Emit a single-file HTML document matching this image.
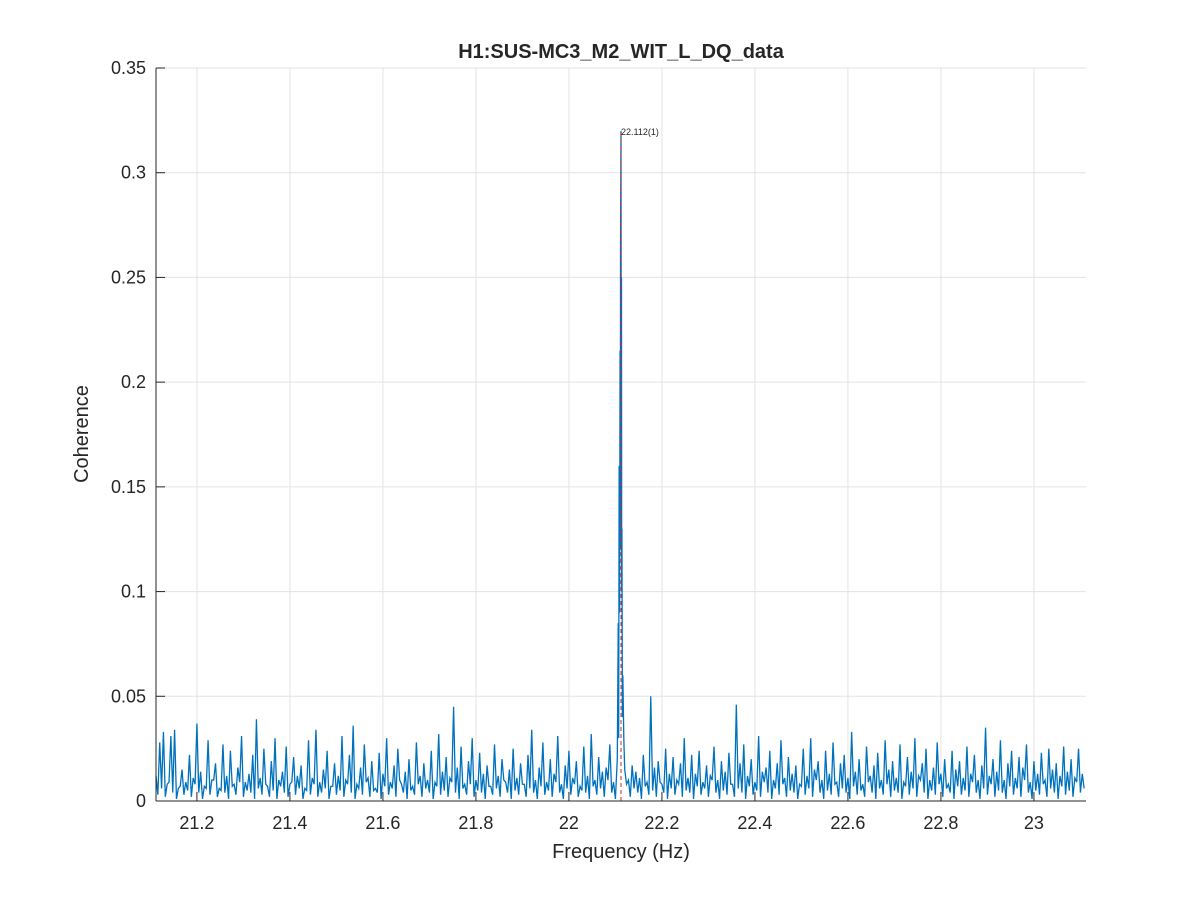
<!DOCTYPE html>
<html><head><meta charset="utf-8"><style>
body{margin:0;background:#fff;font-family:"Liberation Sans","DejaVu Sans",sans-serif}
svg text{font-family:"Liberation Sans","DejaVu Sans",sans-serif;fill:#262626}
</style></head><body>
<svg id="chart" width="1200" height="900">
<rect x="0" y="0" width="1200" height="900" fill="#fff"/>
<g id="grid"></g>
<g id="series"></g>
<g id="axes"></g>
<text x="621" y="58" text-anchor="middle" font-size="20" font-weight="bold">H1:SUS-MC3_M2_WIT_L_DQ_data</text>
<text x="621" y="858" text-anchor="middle" font-size="20">Frequency (Hz)</text>
<text x="88" y="434" text-anchor="middle" font-size="20" transform="rotate(-90 88 434)">Coherence</text>
</svg>
<script>
const xTicks=[21.2,21.4,21.6,21.8,22,22.2,22.4,22.6,22.8,23];
const xTickLabels=["21.2","21.4","21.6","21.8","22","22.2","22.4","22.6","22.8","23"];
const yTicks=[0,0.05,0.1,0.15,0.2,0.25,0.3,0.35];
const yTickLabels=["0","0.05","0.1","0.15","0.2","0.25","0.3","0.35"];
const noiseStart=21.112, noiseStep=0.008;
const noiseVals=[.012,.028,.033,.008,.031,.034,.006,.015,.009,.022,.011,.037,.014,.007,.029,.010,.018,.006,.027,.012,.024,.008,.016,.031,.009,
.013,.022,.039,.011,.025,.007,.019,.030,.010,.014,.026,.008,.021,.012,.017,.006,.029,.011,.034,.009,.015,.024,.007,.018,.012,
.031,.010,.022,.036,.008,.016,.027,.011,.019,.006,.023,.013,.030,.009,.017,.025,.008,.014,.020,.007,.028,.012,.018,.010,.024,
.009,.032,.014,.021,.011,.045,.016,.026,.008,.019,.030,.010,.023,.013,.017,.007,.027,.012,.020,.009,.015,.025,.011,.018,.008,
.022,.034,.010,.016,.028,.009,.020,.013,.031,.008,.017,.024,.011,.019,.007,.026,.012,.032,.010,.021,.014,.016,.027,.009,.018,
.012,.020,.010,.017,.014,.011,.022,.009,.050,.016,.019,.008,.025,.013,.021,.010,.018,.030,.011,.022,.013,.024,.009,.017,.012,
.026,.010,.019,.014,.023,.008,.046,.018,.027,.012,.020,.009,.031,.014,.016,.024,.010,.018,.029,.011,.021,.013,.017,.008,.025,
.012,.030,.015,.019,.010,.024,.013,.028,.009,.018,.022,.011,.033,.014,.020,.008,.026,.012,.017,.023,.010,.029,.015,.019,.011,
.027,.009,.021,.014,.030,.012,.018,.025,.010,.016,.028,.013,.020,.008,.024,.015,.019,.011,.026,.013,.022,.010,.017,.035,.012,
.020,.014,.029,.010,.018,.024,.011,.021,.016,.027,.009,.019,.013,.023,.010,.025,.015,.018,.012,.026,.014,.020,.011,.025,.013];
const noiseValsB=[.003,.006,.002,.009,.004,.001,.007,.003,.005,.002,.008,.004,.001,.006,.003,.010,.002,.005,.004,.001,.007,.003,.009,.002,.005,
.004,.001,.006,.003,.008,.002,.005,.001,.007,.004,.002,.009,.003,.006,.001,.005,.003,.008,.002,.004,.006,.001,.007,.003,.005,
.002,.008,.004,.001,.006,.003,.009,.002,.005,.004,.001,.007,.003,.006,.002,.010,.004,.001,.005,.003,.008,.002,.006,.004,.001,
.007,.003,.005,.002,.009,.004,.001,.006,.003,.008,.002,.005,.004,.001,.007,.003,.006,.002,.010,.004,.001,.005,.003,.008,.002,
.006,.004,.001,.007,.003,.005,.002,.009,.004,.001,.006,.003,.008,.002,.005,.004,.001,.007,.003,.006,.002,.010,.004,.001,.005,
.003,.008,.002,.006,.004,.001,.007,.003,.005,.002,.009,.004,.001,.006,.003,.008,.002,.005,.004,.001,.007,.003,.006,.002,.010,
.004,.001,.005,.003,.008,.002,.006,.004,.001,.007,.003,.005,.002,.009,.004,.001,.006,.003,.008,.002,.005,.004,.001,.007,.003,
.006,.002,.010,.004,.001,.005,.003,.008,.002,.006,.004,.001,.007,.003,.005,.002,.009,.004,.001,.006,.003,.008,.002,.005,.004,
.001,.007,.003,.006,.002,.010,.004,.001,.005,.003,.008,.002,.006,.004,.001,.007,.003,.005,.002,.009,.004,.001,.006,.003,.008,
.002,.005,.004,.001,.007,.003,.006,.002,.010,.004,.001,.005,.003,.008,.002,.006,.004,.001,.007,.003,.005,.002,.009,.004,.006];
const peakFreqs=[22.104,22.105,22.106,22.107,22.108,22.109,22.110,22.1105,22.111,22.112,22.1125,22.113,22.1135,22.114,22.115,22.116,22.118,22.120];
const peakVals=[.02,.05,.085,.03,.16,.09,.215,.12,.265,.32,.18,.25,.10,.13,.04,.06,.03,.015];
const peakFreq=22.112, peakVal=0.32, peakLabel="22.112(1)";

const X0=156,X1=1086,Y0=801,Y1=68,fmin=21.112,fmax=23.112,ymax=0.35;
const sx=f=>X0+(f-fmin)/(fmax-fmin)*(X1-X0);
const sy=v=>Y0-v/ymax*(Y0-Y1);
const NS="http://www.w3.org/2000/svg";
function mk(t,a,p){const e=document.createElementNS(NS,t);for(const k in a)e.setAttribute(k,a[k]);p.appendChild(e);return e;}
const grid=document.getElementById('grid'),axes=document.getElementById('axes'),ser=document.getElementById('series');
xTicks.forEach((t,i)=>{const x=sx(t);
 const g=mk('line',{x1:x,x2:x,y1:Y1,y2:Y0,stroke:'#e3e3e3','stroke-width':1},grid);
 
 
 const tk=mk('line',{x1:x,x2:x,y1:Y0,y2:Y0-9,stroke:'#262626'},axes);
 
 
 const tx=mk('text',{x:x,y:829,'text-anchor':'middle','font-size':18},axes);tx.textContent=xTickLabels[i];
 
 
});
yTicks.forEach((t,i)=>{const y=sy(t);
 const g=mk('line',{x1:X0,x2:X1,y1:y,y2:y,stroke:'#e3e3e3','stroke-width':1},grid);
 
 
 const tk=mk('line',{x1:X0,x2:X0+9,y1:y,y2:y,stroke:'#262626'},axes);
 
 
 const tx=mk('text',{x:146,y:y+6,'text-anchor':'end','font-size':18},axes);tx.textContent=yTickLabels[i];
 
 
});
const al=mk('line',{x1:X0,x2:X0,y1:Y1,y2:Y0,stroke:'#262626'},axes);


const ab=mk('line',{x1:X0,x2:X1,y1:Y0,y2:Y0,stroke:'#262626'},axes);


let pts=[];
noiseVals.forEach((v,i)=>{const f=noiseStart+i*noiseStep;if(f<22.101||f>22.122)pts.push([f,v]);});
noiseValsB.forEach((v,i)=>{const f=noiseStart+(i+0.5)*noiseStep;if((f<22.101||f>22.122)&&f<=fmax)pts.push([f,v]);});
peakFreqs.forEach((f,i)=>pts.push([f,peakVals[i]]));
pts.sort((a,b)=>a[0]-b[0]);
const d=pts.map((p,i)=>(i?'L':'M')+sx(p[0]).toFixed(2)+','+sy(p[1]).toFixed(2)).join('');
const line=mk('path',{d:d,fill:'none',stroke:'#0072bd','stroke-width':1.3},ser);


const px=sx(peakFreq);
const rl=mk('line',{x1:px,x2:px,y1:Y0,y2:sy(peakVal),stroke:'#d62728','stroke-dasharray':'4,3','stroke-width':1},ser);


const pl=mk('text',{x:px,y:sy(peakVal)+4,'font-size':9},ser);pl.textContent=peakLabel;


</script>
</body></html>
